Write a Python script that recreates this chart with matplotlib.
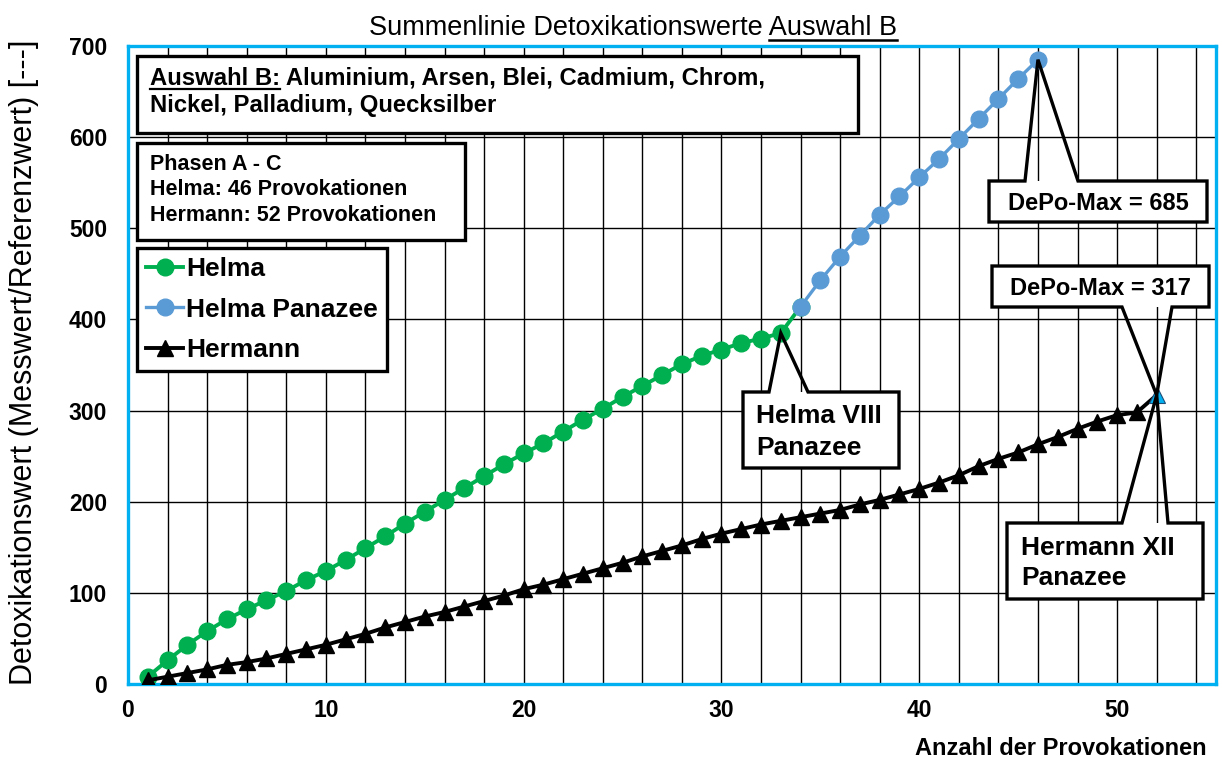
import matplotlib
matplotlib.use("Agg")
import matplotlib.pyplot as plt
from matplotlib.patches import Rectangle, Polygon
from matplotlib.transforms import IdentityTransform

plt.rcParams['font.family'] = ['Liberation Sans', 'DejaVu Sans']

W, H = 1222, 758

# --- data ---
helma_x = list(range(1, 35))
helma_y = [8, 26, 43, 58, 71, 82, 92, 102, 114, 124, 136, 149, 162, 176, 189,
           202, 215, 228, 241, 253, 264, 277, 290, 302, 315, 327, 339, 351,
           360, 367, 374, 379, 385, 414]

panazee_x = list(range(34, 47))
panazee_y = [414, 443, 469, 492, 515, 535, 556, 576, 598, 620, 642, 664, 685]

hermann_x = list(range(1, 53))
hermann_y = [4, 8, 12, 16, 21, 24, 28, 33, 38, 43, 49, 55, 62, 68, 74, 79, 85,
             91, 97, 104, 109, 115, 121, 127, 133, 140, 146, 152, 159, 165, 170,
             175, 179, 183, 187, 191, 197, 202, 208, 214, 221, 229, 239, 247,
             254, 263, 271, 280, 288, 295, 298, 317]

x_ticks = [0, 10, 20, 30, 40, 50]
y_ticks = [0, 100, 200, 300, 400, 500, 600, 700]

GREEN = '#00B050'
BLUE = '#5B9BD5'
CYAN = '#00B0F0'

fig = plt.figure(figsize=(W / 100, H / 100), dpi=100)
ax = fig.add_axes([128 / W, 1 - 684 / H, (1216 - 128) / W, (684 - 46) / H])

ax.plot(helma_x, helma_y, color=GREEN, lw=2.8, marker='o', ms=12,
        zorder=3, label='Helma')
ax.plot(panazee_x, panazee_y, color=BLUE, lw=2.4, marker='o', ms=12,
        zorder=3, label='Helma Panazee')
ax.plot(hermann_x, hermann_y, color='black', lw=2.8, marker='^', ms=12,
        markevery=list(range(len(hermann_x) - 1)), zorder=3, label='Hermann')
ax.plot(hermann_x[-1:], hermann_y[-1:], ls='none', marker='^', ms=12,
        mfc=CYAN, mec='#1F4E79', mew=0.8, zorder=4)

ax.set_xlim(0, 55)
ax.set_ylim(0, 700)
ax.set_xticks(x_ticks)
ax.set_xticks(range(0, 56, 2), minor=True)
ax.set_yticks(y_ticks)
ax.set_axisbelow(True)
ax.grid(axis='x', which='both', color='black', lw=1.0)
ax.grid(axis='y', which='major', color='black', lw=1.0)
ax.tick_params(which='both', length=0)
ax.tick_params(axis='y', pad=15, labelsize=16.5)
ax.tick_params(axis='x', pad=11, labelsize=16.5)
for lbl in ax.get_xticklabels() + ax.get_yticklabels():
    lbl.set_fontweight('bold')
for sp in ax.spines.values():
    sp.set_color(CYAN)
    sp.set_linewidth(2.4)

leg = ax.legend(loc='upper left', bbox_to_anchor=(137 / W, 1 - 248 / H),
                bbox_transform=fig.transFigure, borderaxespad=0,
                prop={'weight': 'bold', 'size': 19}, handlelength=1.4,
                handletextpad=0.1, borderpad=0.35, labelspacing=0.62,
                fancybox=False, framealpha=1)
leg.get_frame().set_edgecolor('black')
leg.get_frame().set_linewidth(2.4)
leg.set_zorder(6)

renderer = fig.canvas.get_renderer()
ident = IdentityTransform()


def text_width(s, **kw):
    t = fig.text(0, 0, s, **kw)
    w = t.get_window_extent(renderer).width
    t.remove()
    return w


def hline(x0, x1, py, lw):
    fig.add_artist(plt.Line2D([x0 / W, x1 / W], [1 - py / H, 1 - py / H],
                              color='black', lw=lw, zorder=8))


def box(x0, y0, x1, y1):
    fig.add_artist(Rectangle((x0, H - y1), x1 - x0, y1 - y0, transform=ident,
                             fc='white', ec='black', lw=2.4, zorder=5))


def callout(x0, y0, x1, y1, side, b0, b1, tip):
    tx, ty = ax.transData.transform(tip)
    top, bot = H - y0, H - y1
    fig.add_artist(Rectangle((x0, bot), x1 - x0, top - bot, transform=ident,
                             fc='white', ec='none', zorder=5))
    if side == 'top':
        pts = [(x0, top), (b0, top), (tx, ty), (b1, top), (x1, top),
               (x1, bot), (x0, bot)]
    else:
        pts = [(x0, top), (x1, top), (x1, bot), (b1, bot), (tx, ty),
               (b0, bot), (x0, bot)]
    fig.add_artist(Polygon(pts, closed=True, fill=False, ec='black', lw=2.4,
                           transform=ident, zorder=6, joinstyle='miter'))


def ftext(px, py, s, size, weight='bold', ha='left'):
    fig.text(px / W, 1 - py / H, s, fontsize=size, fontweight=weight,
             ha=ha, va='baseline', zorder=7)


# title with underlined part
title_pre = 'Summenlinie Detoxikationswerte '
title_u = 'Auswahl B'
ftext(633, 35, title_pre + title_u, 19.5, weight='normal', ha='center')
full_w = text_width(title_pre + title_u, fontsize=19.5)
u_w = text_width(title_u, fontsize=19.5)
hline(633 + full_w / 2 - u_w, 633 + full_w / 2, 40, 1.8)

# axis labels
fig.text(24 / W, 1 - 362 / H, 'Detoxikationswert (Messwert/Referenzwert) [---]',
         rotation=90, fontsize=22, ha='center', va='center')
ftext(1207, 755, 'Anzahl der Provokationen', 17, ha='right')

# info boxes
box(137, 56, 858, 133)
ftext(150, 85, 'Auswahl B: Aluminium, Arsen, Blei, Cadmium, Chrom,', 17.2)
ftext(150, 112, 'Nickel, Palladium, Quecksilber', 17.2)
hline(150, 150 + text_width('Auswahl B:', fontsize=17.2, fontweight='bold'),
      89, 1.6)

box(137, 143, 465, 240)
ftext(150, 170, 'Phasen A - C', 15.5)
ftext(150, 195, 'Helma: 46 Provokationen', 15.5)
ftext(150, 221, 'Hermann: 52 Provokationen', 15.5)

# callouts
callout(989, 181, 1207, 222, 'top', 1025, 1078, (panazee_x[-1], panazee_y[-1]))
ftext(1098, 210, 'DePo-Max = 685', 17, ha='center')

callout(992, 266, 1209, 307, 'bottom', 1122, 1172, (hermann_x[-1], hermann_y[-1]))
ftext(1100, 295, 'DePo-Max = 317', 17, ha='center')

callout(743, 392, 899, 468, 'top', 769, 808, (helma_x[-2], helma_y[-2]))
ftext(756, 423, 'Helma VIII', 19)
ftext(756, 455, 'Panazee', 19)

callout(1007, 523, 1203, 599, 'top', 1122, 1168, (hermann_x[-1], hermann_y[-1]))
ftext(1021, 555, 'Hermann XII', 19)
ftext(1021, 585, 'Panazee', 19)

fig.savefig('out.png', dpi=100)
